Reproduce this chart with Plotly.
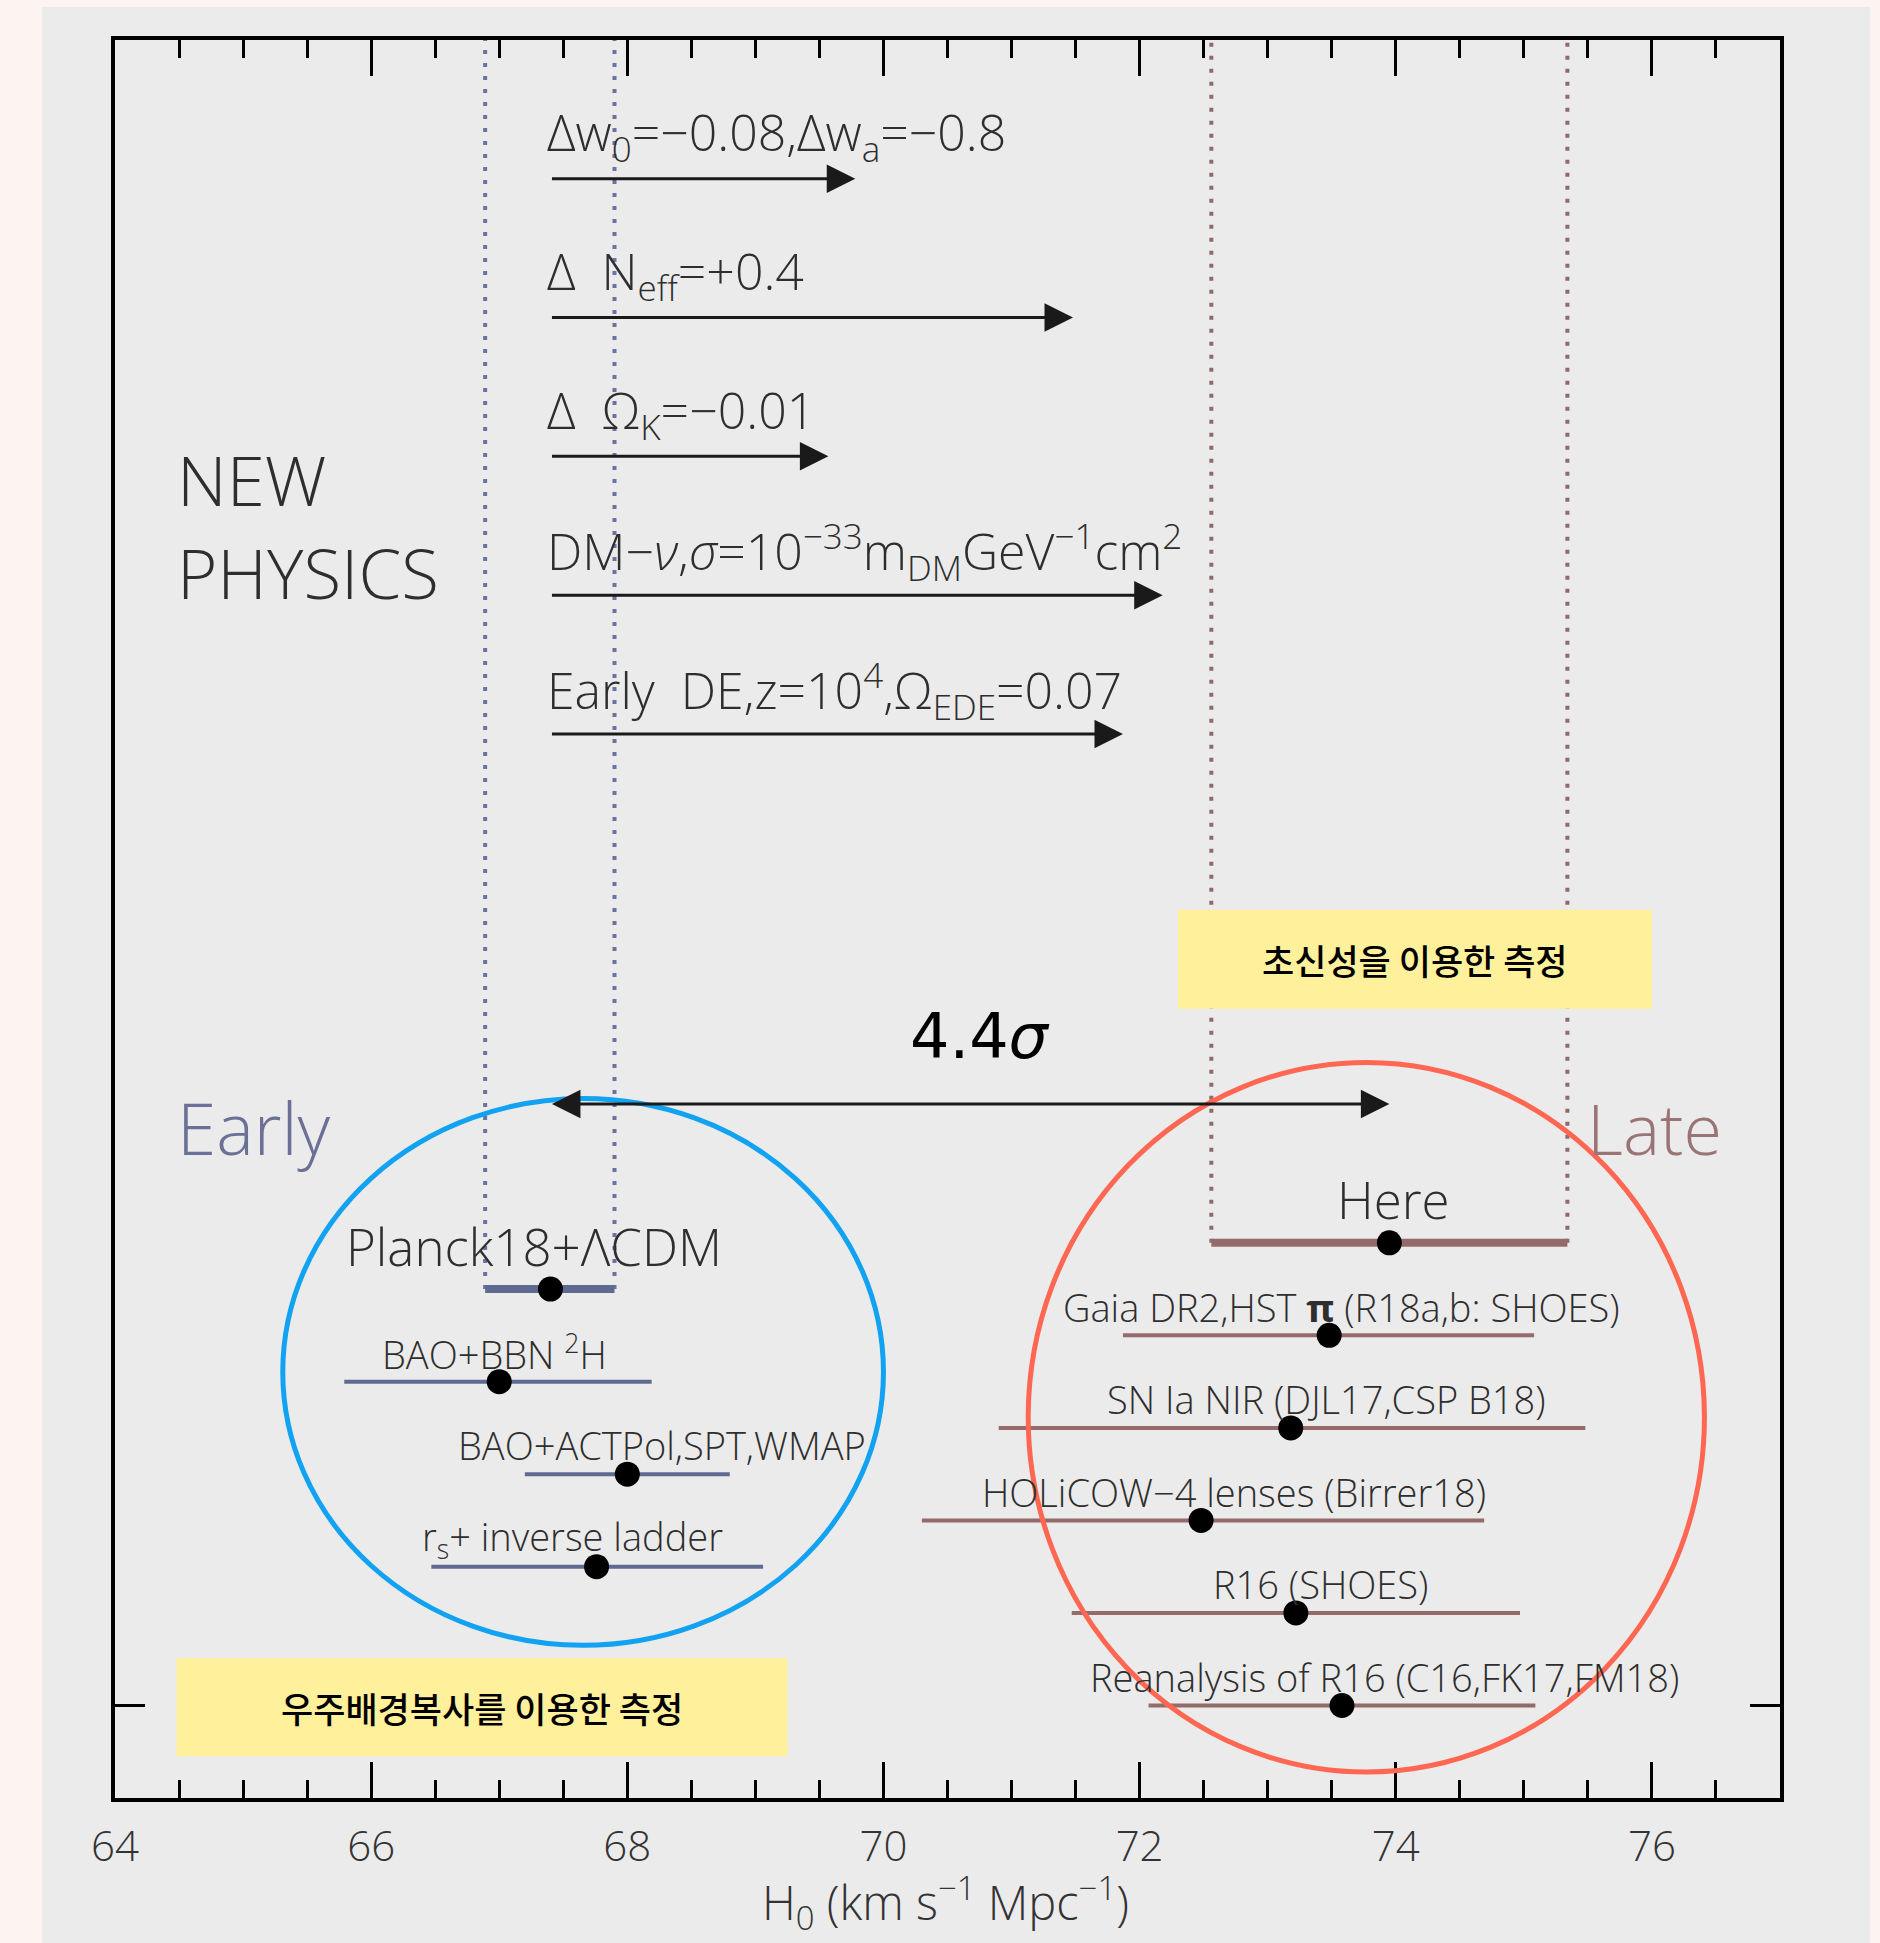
import plotly.graph_objects as go

# ---- Early-universe (CMB / BAO based) H0 measurements ----
early_names = ["Planck18+ΛCDM", "BAO+BBN <sup>2</sup>H", "BAO+ACTPol,SPT,WMAP", "r<sub>s</sub>+ inverse ladder"]
early_h0 = [67.40, 67.00, 68.00, 67.76]
early_lo = [66.89, 65.79, 67.20, 66.47]
early_hi = [67.90, 68.19, 68.80, 69.06]
early_rows = [4.5, 3.5, 2.5, 1.5]

# ---- Late-universe (distance ladder / lensing) H0 measurements ----
late_names = ["Here", "Gaia DR2,HST <b>π</b> (R18a,b: SHOES)", "SN Ia NIR (DJL17,CSP B18)",
              "HOLiCOW−4 lenses (Birrer18)", "R16 (SHOES)", "Reanalysis of R16 (C16,FK17,FM18)"]
late_h0 = [73.95, 73.48, 73.18, 72.48, 73.22, 73.58]
late_lo = [72.56, 71.87, 70.90, 70.30, 71.47, 72.07]
late_hi = [75.34, 75.08, 75.48, 74.69, 74.97, 75.09]
late_rows = [5, 4, 3, 2, 1, 0]

# ---- New-physics shifts of the Planck H0 ----
shift_labels = ["Δw<sub>0</sub>=−0.08,Δw<sub>a</sub>=−0.8",
                "Δ\u00a0\u00a0N<sub>eff</sub>=+0.4",
                "Δ\u00a0\u00a0Ω<sub>K</sub>=−0.01",
                "DM−<i>ν</i>,<i>σ</i>=10<sup>−33</sup>m<sub>DM</sub>GeV<sup>−1</sup>cm<sup>2</sup>",
                "Early\u00a0\u00a0DE,z=10<sup>4</sup>,Ω<sub>EDE</sub>=0.07"]
shift_end = [69.78, 71.48, 69.57, 72.18, 71.87]
shift_rows = [16.5, 15.0, 13.5, 12.0, 10.5]

tension_label = "4.4<i>σ</i>"
x_ticks = [64, 66, 68, 70, 72, 74, 76]
x_title = "H<sub>0</sub> (km s<sup>−1</sup> Mpc<sup>−1</sup>)"

EARLY_C = "#5e6a90"
LATE_C = "#946a6a"
TXT_C = "#2e2e2e"
FONT = "Open Sans"
W = 300

fig = go.Figure()

# dotted guides from the top of the frame down to the Planck and "Here" bars
for xv in [early_lo[0], early_hi[0]]:
    fig.add_trace(go.Scatter(x=[xv, xv], y=[early_rows[0], 18], mode="lines",
                             line=dict(color="#6a72a0", width=4, dash="4px,9px"),
                             hoverinfo="skip", showlegend=False))
for xv in [late_lo[0], late_hi[0]]:
    fig.add_trace(go.Scatter(x=[xv, xv], y=[late_rows[0], 18], mode="lines",
                             line=dict(color="#8f6a6a", width=4, dash="4px,9px"),
                             hoverinfo="skip", showlegend=False))

# horizontal error bars
def add_bars(lo, hi, rows, color):
    for k, (a, b, r) in enumerate(zip(lo, hi, rows)):
        fig.add_trace(go.Scatter(x=[a, b], y=[r, r], mode="lines",
                                 line=dict(color=color, width=8 if k == 0 else 4),
                                 hoverinfo="skip", showlegend=False))

add_bars(early_lo, early_hi, early_rows, EARLY_C)
add_bars(late_lo, late_hi, late_rows, LATE_C)

# central values
fig.add_trace(go.Scatter(x=early_h0 + late_h0, y=early_rows + late_rows, mode="markers",
                         marker=dict(color="black", size=25), hoverinfo="skip", showlegend=False))

annotations = []

# measurement labels
big = {0}
early_lab_x = [67.27, 66.96, 68.27, 67.57]
late_lab_x = [73.98, 73.58, 73.46, 72.74, 73.41, 73.91]
for k, (name, r) in enumerate(zip(early_names, early_rows)):
    annotations.append(dict(x=early_lab_x[k], y=r + (0.47 if k in big else 0.31), text=name, showarrow=False,
                            xanchor="center", yanchor="middle",
                            font=dict(size=51 if k in big else 38, color=TXT_C, family=FONT, weight=W)))
for k, (name, r) in enumerate(zip(late_names, late_rows)):
    annotations.append(dict(x=late_lab_x[k], y=r + (0.47 if k in big else 0.31), text=name, showarrow=False,
                            xanchor="center", yanchor="middle",
                            font=dict(size=51 if k in big else 38, color=TXT_C, family=FONT, weight=W)))

# new-physics arrows and their labels
for lab, xe, r in zip(shift_labels, shift_end, shift_rows):
    annotations.append(dict(x=xe, y=r, ax=early_h0[0], ay=r, axref="x", ayref="y",
                            xref="x", yref="y", text="", showarrow=True,
                            arrowhead=2, arrowsize=1.9, arrowwidth=3, arrowcolor="#1a1a1a"))
    annotations.append(dict(x=early_h0[0] - 0.04, y=r + 0.47, text=lab, showarrow=False,
                            xanchor="left", yanchor="middle",
                            font=dict(size=50, color=TXT_C, family=FONT, weight=W)))

# tension arrow between Planck and "Here"
annotations.append(dict(x=late_h0[0], y=6.5, ax=early_h0[0], ay=6.5, axref="x", ayref="y",
                        xref="x", yref="y", text="", showarrow=True, arrowside="end+start",
                        arrowhead=2, arrowsize=1.9, arrowwidth=3, arrowcolor="#1a1a1a"))
annotations.append(dict(x=70.75, y=7.23, text=tension_label, showarrow=False,
                        font=dict(size=62, color="black", family="DejaVu Sans")))

# side titles
annotations += [
    dict(x=64.47, y=13.26, text="NEW", showarrow=False, xanchor="left", yanchor="middle",
         font=dict(size=69, color=TXT_C, family=FONT, weight=W)),
    dict(x=64.47, y=12.25, text="PHYSICS", showarrow=False, xanchor="left", yanchor="middle",
         font=dict(size=69, color=TXT_C, family=FONT, weight=W)),
    dict(x=64.47, y=6.25, text="Early", showarrow=False, xanchor="left", yanchor="middle",
         font=dict(size=71, color="#6a7096", family=FONT, weight=W)),
    dict(x=75.48, y=6.24, text="Late", showarrow=False, xanchor="left", yanchor="middle",
         font=dict(size=70, color="#9a7474", family=FONT, weight=W)),
]

# x-axis title
annotations.append(dict(xref="paper", yref="paper", x=0.4985, y=-0.0597, text=x_title,
                        showarrow=False, xanchor="center", yanchor="middle",
                        font=dict(size=47, color="#333333", family=FONT, weight=W)))

# Korean captions in yellow boxes
boxes = [
    dict(x0=72.30, x1=76.00, y0=7.53, y1=8.60, text="초신성을 이용한 측정"),
    dict(x0=64.48, x1=69.25, y0=-0.55, y1=0.51, text="우주배경복사를 이용한 측정"),
]
shapes = [
    # grey panel behind the chart
    dict(type="rect", xref="paper", yref="paper", x0=-0.0438, x1=1.054, y0=-0.0825, y1=1.0188,
         fillcolor="#ebebeb", line=dict(width=0), layer="below"),
]
for b in boxes:
    shapes.append(dict(type="rect", xref="x", yref="y", x0=b["x0"], x1=b["x1"], y0=b["y0"], y1=b["y1"],
                       fillcolor="#fff09b", line=dict(width=0), layer="above"))
    annotations.append(dict(x=(b["x0"] + b["x1"]) / 2, y=(b["y0"] + b["y1"]) / 2, text=b["text"],
                            showarrow=False, xanchor="center", yanchor="middle",
                            font=dict(size=35, color="black", family="Noto Sans CJK KR", weight=500)))

# group outlines
shapes += [
    dict(type="circle", xref="x", yref="y", x0=65.31, x1=70.00, y0=0.65, y1=6.56,
         line=dict(color="#12a2f2", width=5), layer="above"),
    dict(type="circle", xref="x", yref="y", x0=71.13, x1=76.41, y0=-0.72, y1=6.95,
         line=dict(color="#ff6752", width=5), layer="above"),
]

fig.update_layout(
    width=1880, height=1943,
    margin=dict(l=115, r=100, t=40, b=145),
    paper_bgcolor="#fdf3f0", plot_bgcolor="#ebebeb",
    shapes=shapes, annotations=annotations, showlegend=False,
    font=dict(family=FONT, color=TXT_C),
)
fig.update_xaxes(
    range=[64, 77], tickvals=x_ticks, ticks="inside", ticklen=36, tickwidth=3, tickcolor="black",
    showline=True, linewidth=4, linecolor="black", mirror="ticks", showgrid=False, zeroline=False,
    tickfont=dict(size=42, color="#333333", family=FONT, weight=W), ticklabelstandoff=9,
    minor=dict(dtick=0.5, tick0=64, ticks="inside", ticklen=18, tickwidth=3, tickcolor="black", showgrid=False),
)
fig.update_yaxes(
    range=[-1, 18], tickvals=[0], ticks="inside", ticklen=30, tickwidth=3, tickcolor="black",
    showticklabels=False, showline=True, linewidth=4, linecolor="black", mirror="ticks",
    showgrid=False, zeroline=False,
)

fig.write_html("out.html")
